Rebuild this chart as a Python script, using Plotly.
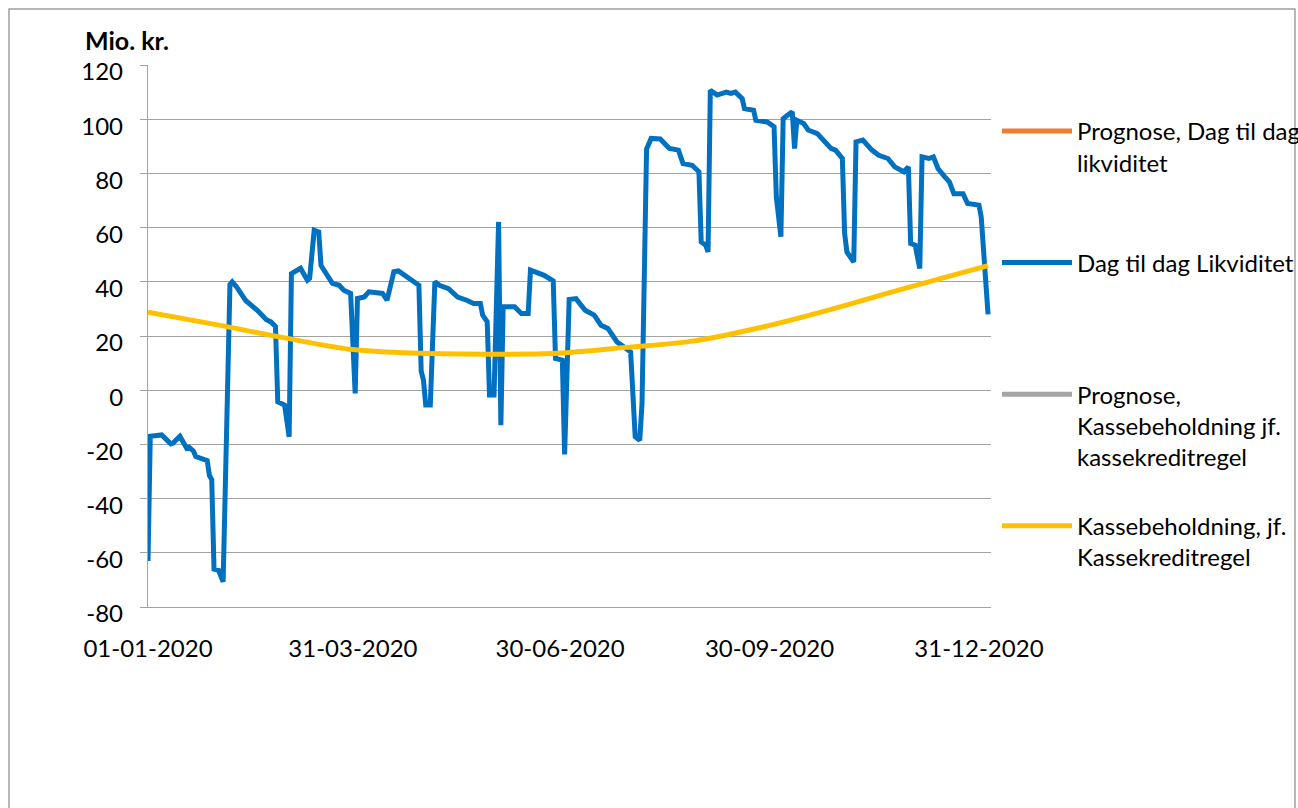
import plotly.graph_objects as go
import pandas as pd

# ---------------- data ----------------
start = pd.Timestamp("2020-01-01")

blue_days = [0, 1, 6, 8, 10, 11, 14, 15, 17, 18, 20, 21, 24, 26, 27, 28, 29, 31, 33,
             36, 37, 39, 43, 46, 48, 52, 54, 56, 57, 60, 62, 63, 67, 70, 71, 73, 75, 76,
             78, 81, 84, 86, 89, 91, 92, 95, 97, 103, 105, 108, 110, 115, 117, 119, 120,
             121, 122, 124, 126, 128, 132, 136, 140, 143, 146, 147, 149, 150, 152, 154,
             155, 156, 161, 164, 167, 168, 174, 178, 179, 182, 183, 185, 188, 192, 196,
             199, 202, 206, 209, 212, 214, 216, 217, 219, 221, 225, 229, 233, 235, 239,
             242, 243, 245, 246, 247, 250, 254, 256, 258, 261, 262, 266, 267, 272, 275,
             276, 278, 279, 281, 283, 284, 285, 288, 290, 294, 296, 300, 302, 305, 306,
             307, 310, 311, 314, 318, 321, 325, 328, 332, 334, 335, 337, 339, 340, 343,
             345, 347, 350, 352, 354, 358, 360, 365, 366, 369]
blue_values = [-63, -17, -16.5, -18.5, -19.8, -19.5, -17, -18.5, -21.4, -21, -22.5, -24.5,
               -25.3, -26, -31.5, -33, -66, -66.5, -70.7,
               39, 40, 38, 33, 31, 29.5, 26, 25.2, 23.5, -4.3, -5.5, -17.2, 43, 45, 40.6,
               41.3, 59, 58.4, 46, 43.6, 39.4, 38.7, 36.9, 35.7, -1.2, 33.8, 34.4, 36.3,
               35.7, 33.2, 43.7, 44, 41, 40, 38.7, 7, 3.7, -5.5, -5.5, 40, 38.7, 37.5,
               34.4, 33.2, 32, 32, 27.7, 25.2, -1.8, -1.8, 62.1, -12.9, 30.8, 30.8, 28.3,
               28.3, 44.3, 42.4, 40.3, 11.7, 11.1, -23.7, 33.5, 33.8, 29.5, 27.7, 24,
               22.8, 17.8, 16, 14.1, -17.2, -18.5, -5, 89, 92.9, 92.7, 89.2, 88.6, 83.6,
               83, 80.6, 54.7, 53.5, 51, 110.7, 108.9, 110, 109.5, 110, 107.6, 103.9,
               103.3, 99.6, 99, 97.2, 71.3, 56.6, 100.2, 101.5, 102.7, 89.2, 99.6, 98.4,
               96, 94.7, 93, 89.2, 88.6, 85.5, 57.8, 51, 47.3, 91.6, 92.3, 88.6, 86.7,
               85.5, 82.4, 80.6, 82.4, 54.1, 53.5, 44.9, 86.1, 85.5, 86.1, 81.8, 78.7,
               76.9, 72.5, 72.5, 68.9, 68.3, 63.9, 28]

yellow_days = [0, 30, 60, 90, 120, 150, 180, 210, 240, 270, 300, 330, 369]
yellow_values = [28.8, 24.2, 19.3, 15.0, 13.6, 13.3, 13.6, 15.8, 18.2, 23.3, 29.8, 37.0, 46.0]

tick_dates = ["2020-01-01", "2020-03-31", "2020-06-30", "2020-09-30", "2020-12-31"]
tick_labels = ["01-01-2020", "31-03-2020", "30-06-2020", "30-09-2020", "31-12-2020"]
y_ticks = [-80, -60, -40, -20, 0, 20, 40, 60, 80, 100, 120]
y_labels = ["-80", "-60", "-40", "-20", "0", "20", "40", "60", "80", "100", "120"]

names = ["Prognose, Dag til dag<br>likviditet<br> ",
         "Dag til dag Likviditet<br> <br> ",
         "Prognose,<br>Kassebeholdning jf.<br>kassekreditregel",
         "Kassebeholdning, jf.<br>Kassekreditregel<br> "]
colors = ["#ED7D31", "#0070C0", "#A5A5A5", "#FFC000"]

blue_x = [start + pd.Timedelta(days=d) for d in blue_days]
yellow_x = [start + pd.Timedelta(days=d) for d in yellow_days]

# ---------------- figure ----------------
FONT = "Lato"
fig = go.Figure()
fig.add_trace(go.Scatter(x=[start], y=[None], mode="lines", name=names[0],
                         line=dict(color=colors[0], width=5), legendgroup="a"))
fig.add_trace(go.Scatter(x=blue_x, y=blue_values, mode="lines", name=names[1],
                         line=dict(color=colors[1], width=5), legendgroup="b"))
fig.add_trace(go.Scatter(x=[start], y=[None], mode="lines", name=names[2],
                         line=dict(color=colors[2], width=5), legendgroup="c"))
fig.add_trace(go.Scatter(x=yellow_x, y=yellow_values, mode="lines", name=names[3],
                         line=dict(color=colors[3], width=5, shape="spline"),
                         legendgroup="d"))

grid = "#a3a3a3"
fig.update_layout(
    width=1298, height=808,
    margin=dict(l=148, r=307, t=65, b=201, autoexpand=False),
    paper_bgcolor="white", plot_bgcolor="white",
    font=dict(family=FONT, size=24, color="black"),
    showlegend=True,
    legend=dict(x=1.0071, xanchor="left", y=0.919, yanchor="top",
                valign="top", traceorder="grouped", tracegroupgap=35,
                itemwidth=70, font=dict(family=FONT, size=24),
                bgcolor="rgba(0,0,0,0)", itemclick=False),
    xaxis=dict(type="date", range=["2020-01-01", "2021-01-05 07:00"],
               tickmode="array", tickvals=tick_dates, ticktext=tick_labels,
               showgrid=False, zeroline=False, showline=True, linecolor=grid,
               linewidth=1.3, ticks="", ticklabelstandoff=20,
               tickfont=dict(family=FONT, size=24)),
    yaxis=dict(range=[-80, 120], tickmode="array", tickvals=y_ticks, ticktext=y_labels,
               showgrid=True, gridcolor=grid, gridwidth=1.3, zeroline=False,
               showline=True, linecolor=grid, linewidth=1.3,
               ticks="outside", ticklen=7, tickcolor=grid, tickwidth=1.3,
               ticklabelstandoff=12, ticklabelshift=7,
               tickfont=dict(family=FONT, size=24)),
)

fig.add_annotation(text="<b>Mio. kr.</b>", xref="paper", yref="paper",
                   x=-0.077, y=1.046, xanchor="left", yanchor="middle",
                   showarrow=False, font=dict(family=FONT, size=25))

# outer chart frame
fig.add_shape(type="rect", xref="paper", yref="paper",
              x0=-0.1649, x1=1.3606, y0=-0.45, y1=1.1033,
              line=dict(color="#a0a0a0", width=1.5), fillcolor="rgba(0,0,0,0)",
              layer="below")

fig.write_html("out.html", config={"displayModeBar": False},
               post_script="document.body.style.margin='0px';")
